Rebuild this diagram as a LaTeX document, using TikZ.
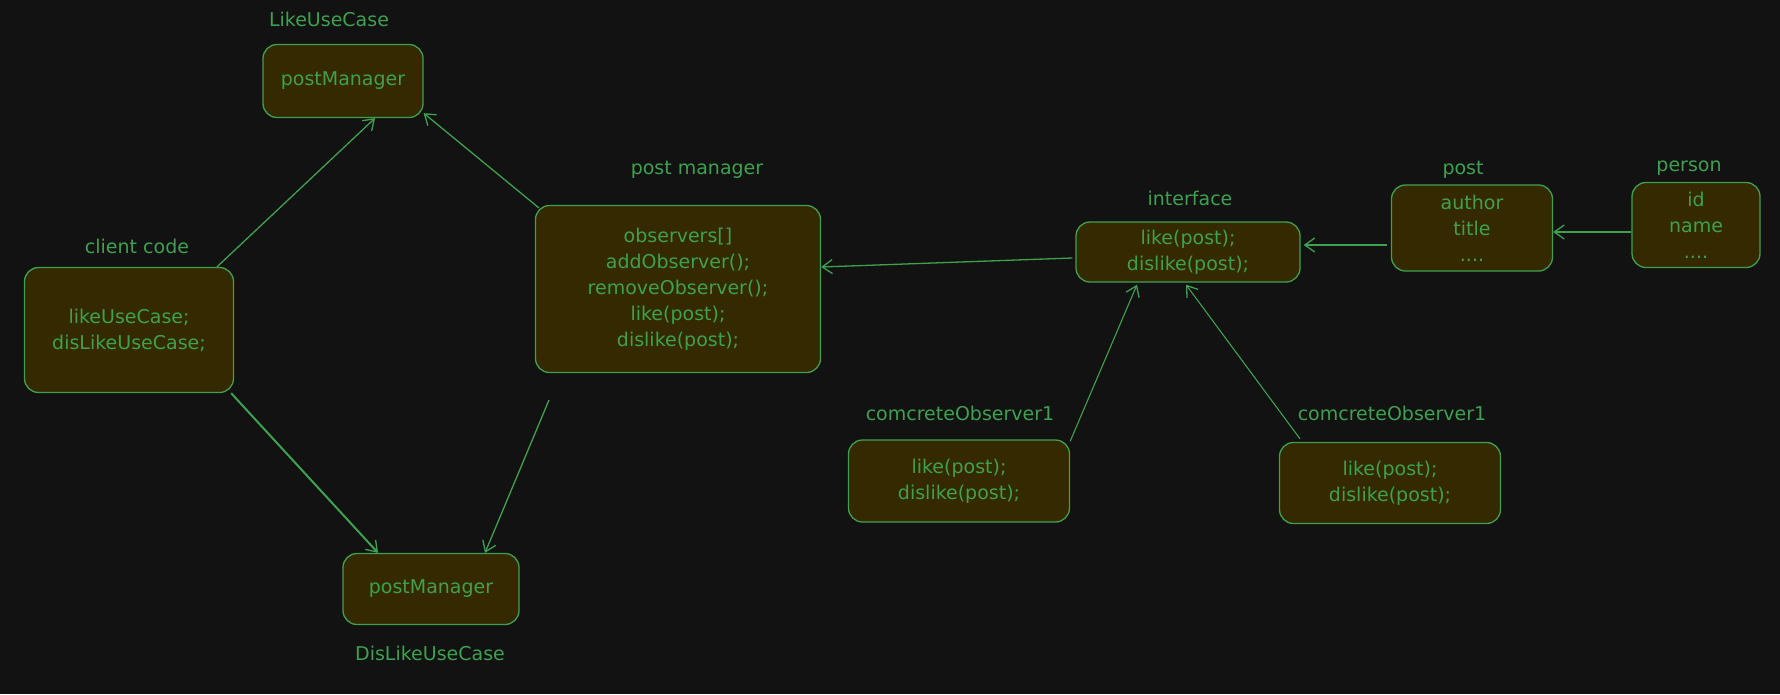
\documentclass[tikz,border=0pt]{standalone}
\usepackage{fontspec}
\setmainfont{DejaVu Sans}
\usetikzlibrary{arrows.meta}
\definecolor{bg}{HTML}{121212}
\definecolor{gr}{HTML}{3EA150}
\definecolor{boxfill}{HTML}{352900}
\begin{document}
\begin{tikzpicture}[x=1pt,y=-1pt,
  box/.style={draw=gr, fill=boxfill, line width=1.3pt, rounded corners=14pt, inner sep=0pt, align=center, text=gr, font=\fontsize{19}{26}\selectfont},
  lbl/.style={text=gr, font=\fontsize{19}{24}\selectfont, inner sep=0pt},
  conn/.style={draw=gr, line width=1.3pt, -{Straight Barb[length=10pt,width=14pt,line width=1.3pt]}},
]
\fill[bg] (0,0) rectangle (1780,694);
\useasboundingbox (0,0) rectangle (1780,694);

\node[box, minimum width=160pt, minimum height=73pt] (likebox) at (343,81) {postManager};
\node[lbl] (likelbl) at (329,19) {LikeUseCase};
\node[box, minimum width=209pt, minimum height=125pt] (client) at (129,330) {likeUseCase;\\disLikeUseCase;};
\node[lbl] (clientlbl) at (137,246) {client code};
\node[box, minimum width=285pt, minimum height=167pt] (pm) at (678,289) {observers[]\\addObserver();\\removeObserver();\\like(post);\\dislike(post);};
\node[lbl] (pmlbl) at (697,170) {post manager};
\node[box, minimum width=176pt, minimum height=71pt] (dislikebox) at (431,589) {postManager};
\node[lbl] (dislikelbl) at (430,653) {DisLikeUseCase};
\node[box, minimum width=224pt, minimum height=60pt] (iface) at (1188,252) {like(post);\\dislike(post);};
\node[lbl] (ifacelbl) at (1190,198) {interface};
\node[box, minimum width=161pt, minimum height=86pt] (post) at (1472,228) {author\\title\\....};
\node[lbl] (postlbl) at (1463,170) {post};
\node[box, minimum width=128pt, minimum height=85pt] (person) at (1696,225) {id\\name\\....};
\node[lbl] (personlbl) at (1689,168) {person};
\node[box, minimum width=221pt, minimum height=82pt] (obsA) at (959,481) {like(post);\\dislike(post);};
\node[lbl] (obsAlbl) at (960,413) {comcreteObserver1};
\node[box, minimum width=221pt, minimum height=81pt] (obsB) at (1390,483) {like(post);\\dislike(post);};
\node[lbl] (obsBlbl) at (1392,413) {comcreteObserver1};

\coordinate (pmfree) at (549,400);

\draw[conn] ([xshift=88pt]client.north) -- ([xshift=32pt]likebox.south);
\draw[conn] ([xshift=4pt,yshift=-3pt]pm.north west) -- ([yshift=5pt]likebox.south east);
\draw[conn, line width=2pt] ([xshift=-3pt]client.south east) -- ([xshift=-53pt]dislikebox.north);
\draw[conn] (pmfree) -- ([xshift=54pt]dislikebox.north);
\draw[conn] ([xshift=-3pt,yshift=-6pt]iface.west) -- ([yshift=22pt]pm.east);
\draw[conn] ([xshift=-4pt,yshift=-17pt]post.west) -- ([xshift=3pt,yshift=7pt]iface.east);
\draw[conn] ([yshift=-7pt]person.west) -- ([yshift=-4pt]post.east);
\draw[conn, line width=1.1pt] ([yshift=-2pt]obsA.north east) -- ([xshift=-51pt,yshift=-2pt]iface.south);
\draw[conn, line width=1.1pt] ([xshift=-90pt,yshift=3pt]obsB.north) -- ([xshift=-2pt,yshift=-2pt]iface.south);
\end{tikzpicture}
\end{document}
